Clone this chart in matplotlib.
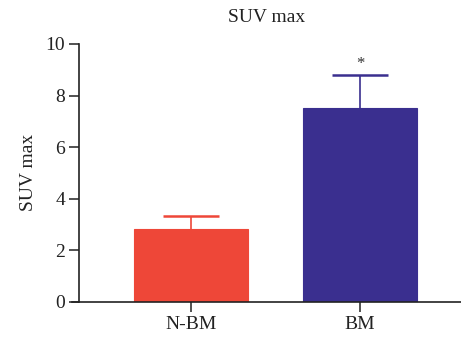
import matplotlib

matplotlib.use("Agg")

import matplotlib.pyplot as plt
import numpy as np

groups = ["N-BM", "BM"]
means = [2.83, 7.53]
errors = [0.50, 1.27]
colors = ["#ee4738", "#3a2f8f"]
y_ticks = [0, 2, 4, 6, 8, 10]

plt.rcParams["font.family"] = ["Liberation Serif", "DejaVu Serif"]

fig = plt.figure(figsize=(4.61, 3.4), dpi=100)
ax = fig.add_axes([0.156, 0.112, 0.844, 0.7588])

x = np.arange(len(groups))
ax.bar(x, means, width=0.675, color=colors, edgecolor=colors, linewidth=0.8, zorder=2)
# upper error bars only
for xi, m, e, c in zip(x, means, errors, colors):
    ax.vlines(xi, m, m + e, color=c, linewidth=1.2, zorder=1)
    ax.hlines(m + e, xi - 0.166, xi + 0.166, color=c, linewidth=1.8, zorder=1)
ax.text(x[1], means[1] + errors[1] + 0.1, "*", ha="center", va="bottom",
        fontsize=12, color="#333333")

ax.set_xlim(-0.705, 1.598)
ax.set_ylim(0, 10)
ax.spines["left"].set_position(("data", -0.663))
ax.spines["bottom"].set_bounds(-0.705, 1.598)
ax.spines["top"].set_visible(False)
ax.spines["right"].set_visible(False)
for side in ("left", "bottom"):
    ax.spines[side].set_color("#222222")
    ax.spines[side].set_linewidth(1.2)

ax.set_xticks(x, groups)
ax.set_yticks(y_ticks)
ax.tick_params(axis="both", length=7, width=1.1, color="#222222",
               labelsize=14, labelcolor="#222222", pad=3)
ax.set_ylabel("SUV max", fontsize=14, color="#222222", labelpad=6)
ax.set_title("SUV max", fontsize=14, color="#222222", pad=16)

fig.savefig("out.png", dpi=100)
